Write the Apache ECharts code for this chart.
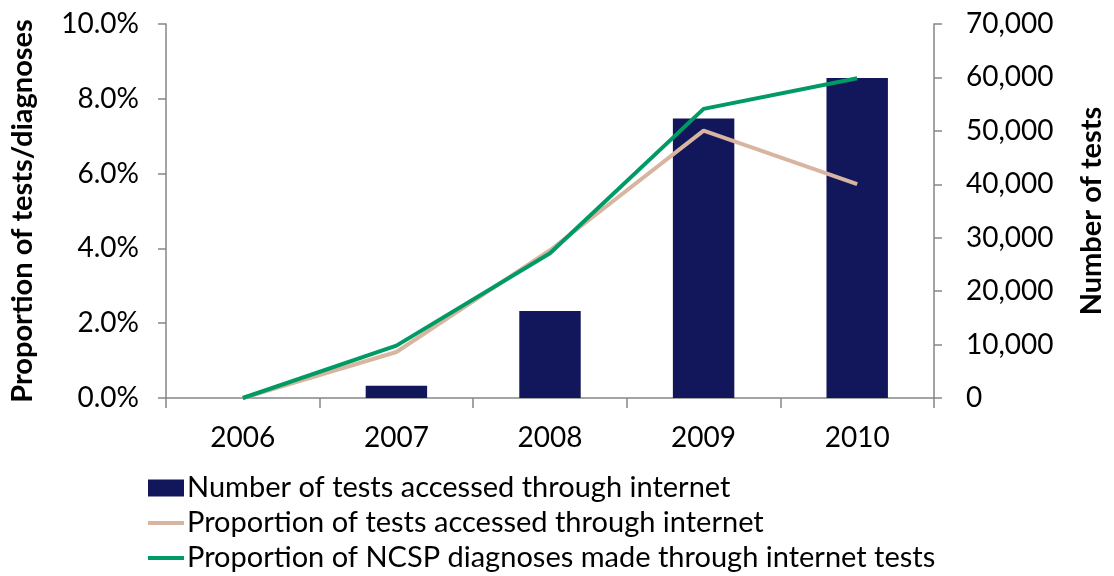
<!DOCTYPE html>
<html><head><meta charset="utf-8">
<script src="https://cdn.jsdelivr.net/npm/echarts@6/dist/echarts.min.js"></script>
<style>html,body{margin:0;padding:0;background:#fff}#c{width:1114px;height:576px}</style>
</head><body><div id="c"></div>
<script>
const years = ['2006','2007','2008','2009','2010'];
const testsInternet = [0, 2300, 16300, 52300, 59900];
const propTests = [0, 1.23, 3.95, 7.15, 5.72];
const propDiagnoses = [0, 1.40, 3.87, 7.73, 8.55];
const seriesNames = ['Number of tests accessed through internet','Proportion of tests accessed through internet','Proportion of NCSP diagnoses made through internet tests'];

const F = 'Lato, "Open Sans", sans-serif';
const axisCol = '#868686';
const navy = '#12175B', beige = '#D7B5A0', green = '#009A64';
const legendText = {fontFamily: F, fontSize: 29, color: '#000', lineHeight: 32, padding: [0,0,0,-2]};
function mkLegend(name, top, h, icon) {
  return {orient: 'vertical', left: 148, top: top, padding: 0, itemWidth: 36, itemHeight: h,
    textStyle: legendText, data: [{name: name, icon: icon}]};
}
const chart = echarts.init(document.getElementById('c'));
chart.setOption({
  animation: false,
  grid: {left: 165, right: 176, top: 24, bottom: 178},
  legend: [
    mkLegend(seriesNames[0], 472, 17, 'rect'),
    mkLegend(seriesNames[1], 507, 4, 'rect'),
    mkLegend(seriesNames[2], 542, 4, 'rect')
  ],
  xAxis: {
    type: 'category', data: years, boundaryGap: true,
    axisLine: {lineStyle: {color: axisCol, width: 1.5}},
    axisTick: {show: true, length: 10, lineStyle: {color: axisCol, width: 1.5}},
    axisLabel: {fontFamily: F, fontSize: 28, color: '#000', margin: 26}
  },
  yAxis: [{
    type: 'value', min: 0, max: 10, interval: 2, position: 'left',
    name: 'Proportion of tests/diagnoses', nameLocation: 'middle', nameRotate: 90, nameGap: 129,
    nameTextStyle: {fontFamily: F, fontSize: 29, fontWeight: 'bold', color: '#000'},
    axisLine: {show: true, lineStyle: {color: axisCol, width: 1.5}},
    axisTick: {show: true, length: 8, lineStyle: {color: axisCol, width: 1.5}},
    splitLine: {show: false},
    axisLabel: {fontFamily: F, fontSize: 28, color: '#000', margin: 27, formatter: v => v.toFixed(1) + '%'}
  }, {
    type: 'value', min: 0, max: 70000, interval: 10000, position: 'right',
    name: 'Number of tests', nameLocation: 'middle', nameRotate: 90, nameGap: 143,
    nameTextStyle: {fontFamily: F, fontSize: 29, fontWeight: 'bold', color: '#000'},
    axisLine: {show: true, lineStyle: {color: axisCol, width: 1.5}},
    axisTick: {show: true, length: 8, lineStyle: {color: axisCol, width: 1.5}},
    splitLine: {show: false},
    axisLabel: {fontFamily: F, fontSize: 28, color: '#000', margin: 32,
      formatter: v => v.toLocaleString('en-US')}
  }],
  series: [{
    name: seriesNames[0], type: 'bar', yAxisIndex: 1, data: testsInternet, barWidth: '40%',
    itemStyle: {color: navy}
  }, {
    name: seriesNames[1], type: 'line', yAxisIndex: 0, data: propTests,
    symbol: 'none', lineStyle: {color: beige, width: 4}, itemStyle: {color: beige}
  }, {
    name: seriesNames[2], type: 'line', yAxisIndex: 0, data: propDiagnoses,
    symbol: 'none', lineStyle: {color: green, width: 4}, itemStyle: {color: green}
  }]
});
</script></body></html>
